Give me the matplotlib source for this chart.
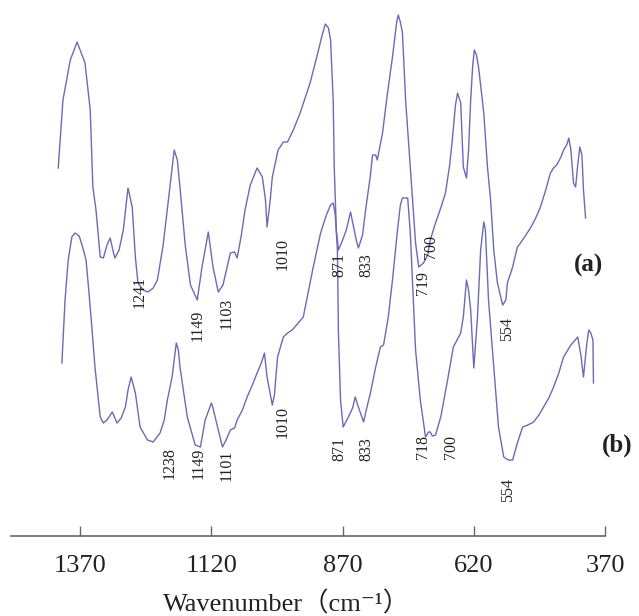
import matplotlib
matplotlib.use("Agg")
import matplotlib.pyplot as plt

# ---- data ----
wn_a = [1412, 1403, 1389, 1376, 1361, 1351, 1346, 1340, 1332, 1326, 1319, 1313, 1307, 1304, 1296, 1288,
        1279, 1271, 1265, 1260, 1250, 1241, 1231, 1223, 1212, 1202, 1191, 1185, 1180, 1170, 1160, 1147,
        1138, 1126, 1117, 1107, 1098, 1084, 1076, 1071, 1063, 1056, 1046, 1033, 1023, 1017, 1014, 1008,
        1004, 993, 983, 975, 964, 951, 932, 916, 909, 903, 897, 893, 888, 886, 882, 878, 870, 863, 855,
        849, 844, 840, 832, 827, 817, 813, 807, 804, 794, 785, 775, 767, 764, 760, 756, 750, 741, 731,
        725, 716, 708, 703, 693, 683, 674, 666, 661, 655, 651, 645, 640, 634, 630, 626, 622, 619, 615,
        611, 601, 594, 588, 582, 575, 565, 559, 556, 546, 537, 531, 521, 512, 502, 493, 483, 474, 468,
        462, 454, 449, 443, 439, 435, 430, 426, 422, 418, 414, 411, 407]
t_a = [368, 436, 476, 494, 473, 426, 349, 326, 279, 278, 291, 298, 284, 278, 286, 306,
       348, 329, 279, 253, 246, 244, 248, 256, 291, 336, 386, 376, 349, 291, 251, 236,
       269, 304, 269, 244, 251, 283, 284, 278, 301, 326, 351, 368, 359, 336, 309, 336,
       359, 386, 394, 394, 406, 423, 453, 486, 501, 512, 508, 496, 436, 369, 306, 286, 296, 306, 324,
       309, 296, 288, 301, 323, 361, 381, 381, 376, 403, 441, 479, 514, 521, 514, 503, 436, 369, 293,
       269, 273, 281, 296, 313, 328, 343, 371, 396, 431, 443, 433, 369, 358, 386, 436, 471, 486, 481,
       469, 423, 369, 336, 286, 253, 231, 236, 253, 269, 289, 293, 301, 308, 318, 329, 346, 363, 368,
       371, 379, 386, 391, 398, 386, 353, 349, 371, 389, 381, 346, 318]

wn_b = [1405, 1401, 1399, 1393, 1386, 1380, 1372, 1365, 1359, 1355, 1349, 1342, 1332, 1326, 1319, 1309,
        1304, 1300, 1292, 1284, 1279, 1273, 1269, 1265, 1256, 1242, 1231, 1218, 1210, 1204, 1195, 1187,
        1183, 1180, 1166, 1151, 1141, 1132, 1120, 1117, 1113, 1099, 1092, 1084, 1076, 1071, 1061, 1052,
        1042, 1033, 1025, 1019, 1014, 1004, 1000, 994, 983, 975, 966, 945, 926, 912, 901, 893, 888, 884,
        880, 878, 874, 869, 859, 851, 846, 840, 830, 825, 817, 807, 798, 792, 783, 775, 766, 760, 756,
        746, 741, 731, 722, 712, 706, 703, 699, 693, 683, 670, 659, 645, 640, 634, 630, 626, 620, 613,
        607, 601, 598, 592, 582, 573, 563, 554, 546, 537, 527, 517, 506, 496, 487, 477, 468, 458, 449,
        435, 422, 416, 411, 405, 401, 397, 393, 392]
t_b = [173, 216, 236, 276, 299, 303, 300, 288, 276, 253, 216, 169, 119, 113, 116, 124,
       118, 113, 118, 129, 146, 159, 151, 143, 109, 96, 94, 103, 116, 136, 159, 193,
       186, 169, 119, 91, 89, 116, 133, 128, 119, 89, 96, 106, 108, 116, 126, 139,
       151, 163, 173, 183, 159, 131, 141, 179, 199, 203, 206, 219, 269, 303, 321, 331, 333, 321,
       286, 203, 136, 109, 119, 128, 139, 129, 114, 126, 143, 169, 189, 191, 219, 256, 303, 331, 338,
       338, 303, 186, 136, 99, 104, 104, 100, 101, 119, 156, 189, 203, 219, 256, 246, 226, 168, 219,
       286, 314, 306, 236, 169, 109, 79, 76, 76, 93, 109, 111, 114, 121, 129, 138, 149, 163, 179,
       191, 199, 181, 159, 191, 206, 203, 196, 153]

tick_values = [1370, 1120, 870, 620, 370]

labels_a = ["1241", "1149", "1103", "1010", "871", "833", "719", "700", "554"]
labels_b = ["1238", "1149", "1101", "1010", "871", "833", "718", "700", "554"]

# label anchor positions (wavenumber, intensity)
pos_a = [(1256, 244), (1147, 211), (1092, 223), (985, 282), (876, 271), (825, 271),
         (716, 253), (701, 289), (556, 207)]
pos_b = [(1199, 73), (1145, 73), (1092, 71), (985, 114), (876, 87), (825, 87),
         (716, 89), (663, 89), (554, 46)]

serif = ["Liberation Serif", "Noto Sans CJK SC", "DejaVu Sans"]
plt.rcParams["font.family"] = serif

fig = plt.figure(figsize=(6.39, 6.16), dpi=100)
ax = fig.add_axes([11 / 639, 80 / 616, 594 / 639, 536 / 616])

line_color = "#6a6ab8"
ax.plot(wn_a, t_a, color=line_color, lw=1.0)
ax.plot(wn_b, t_b, color=line_color, lw=1.0)

ax.set_xlim(1502, 370)
ax.set_ylim(0, 536)

for s in ["top", "left", "right"]:
    ax.spines[s].set_visible(False)
ax.spines["bottom"].set_color("#666666")
ax.spines["bottom"].set_linewidth(1.2)
ax.set_yticks([])
ax.set_xticks(tick_values)
ax.set_xticklabels([str(v) for v in tick_values])
ax.tick_params(axis="x", direction="in", length=7, width=1.0, color="#666666",
               labelsize=19, pad=14, labelcolor="#222222")

for txt, (x, y) in zip(labels_a, pos_a):
    ax.text(x, y, txt, rotation=90, ha="center", va="center", fontsize=11.5, color="#222222")
for txt, (x, y) in zip(labels_b, pos_b):
    ax.text(x, y, txt, rotation=90, ha="center", va="center", fontsize=11.5, color="#222222")

ax.text(401, 271, "(a)", ha="center", va="center", fontsize=18, fontweight="bold",
        color="#222222", clip_on=False)
ax.text(347, 91, "(b)", ha="center", va="center", fontsize=18, fontweight="bold",
        color="#222222", clip_on=False)

fig.text(287 / 639, 1 - 611 / 616, "Wavenumber（cm⁻¹）", ha="center", va="baseline",
         fontsize=19, color="#222222", family=serif)

fig.savefig("out.png", dpi=100)
